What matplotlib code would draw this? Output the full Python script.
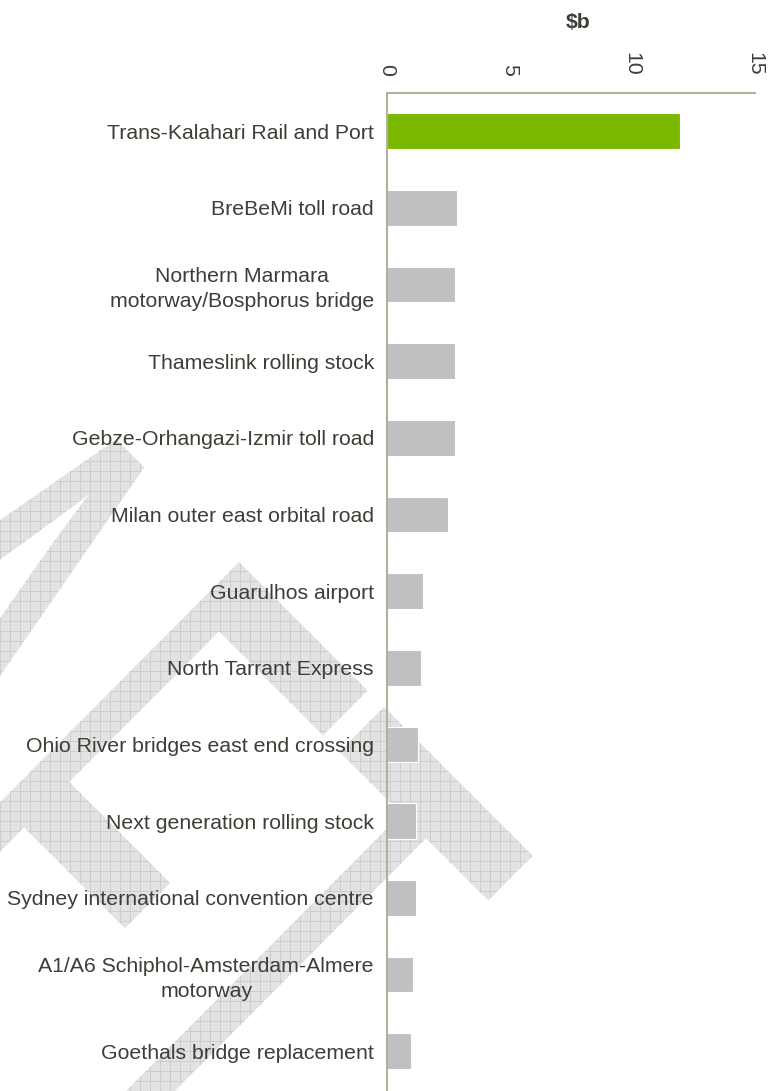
import matplotlib
matplotlib.use("Agg")
import matplotlib.pyplot as plt
import numpy as np
from matplotlib.textpath import TextPath
from matplotlib.font_manager import FontProperties
from matplotlib.transforms import Affine2D, IdentityTransform
from matplotlib.patches import PathPatch
from matplotlib.collections import LineCollection

# ---- data -------------------------------------------------------------
projects = [
    "Trans-Kalahari Rail and Port",
    "BreBeMi toll road",
    "Northern Marmara\nmotorway/Bosphorus bridge",
    "Thameslink rolling stock",
    "Gebze-Orhangazi-Izmir toll road",
    "Milan outer east orbital road",
    "Guarulhos airport",
    "North Tarrant Express",
    "Ohio River bridges east end crossing",
    "Next generation rolling stock",
    "Sydney international convention centre",
    "A1/A6 Schiphol-Amsterdam-Almere\nmotorway",
    "Goethals bridge replacement",
]
values_bn = [11.95, 2.87, 2.78, 2.78, 2.78, 2.48, 1.47, 1.38, 1.28, 1.18, 1.17, 1.07, 0.98]
highlight = [True] + [False] * 12
x_ticks = [0, 5, 10, 15]
unit_label = "$b"
stamp = "DRAFT"

# ---- styling ----------------------------------------------------------
W, H, DPI = 775, 1091, 100
GREEN = "#7AB800"
GREY = "#C0C0C0"
AXIS = "#A8B3A0"
TEXT = "#3B4036"

plt.rcParams["font.family"] = ["Liberation Sans", "DejaVu Sans"]

fig = plt.figure(figsize=(W / DPI, H / DPI), dpi=DPI, facecolor="white")

# ---- diagonal "DRAFT" stamp behind the chart ---------------------------
fp = FontProperties(family="Liberation Sans")
word = TextPath((0, 0), stamp, size=1, prop=fp)
head = TextPath((0, 0), stamp[:4], size=1, prop=fp).get_extents()
f_ext = TextPath((0, 0), stamp[3], size=1, prop=fp).get_extents()
x_f = head.x1 - f_ext.width
cap = f_ext.y1

u_scale, v_scale = 372.0, 830.0
a, c = u_scale * 0.707, -u_scale * 0.707          # along the baseline
b, d = v_scale * 0.705, v_scale * 0.709           # letter "up" direction
anchor_x, anchor_y = 239.0, H - 562.0
mtx = np.array([[a, b, anchor_x - a * x_f - b * cap],
                [c, d, anchor_y - c * x_f - d * cap],
                [0, 0, 1]])
stamp_path = Affine2D(mtx).transform_path(word)

stamp_patch = PathPatch(stamp_path, transform=IdentityTransform(),
                        facecolor="#E3E3E3", edgecolor="none", zorder=-2)
fig.add_artist(stamp_patch)

step = 10
segs = [[(0, yy), (W, yy)] for yy in np.arange(0, H + step, step)]
segs += [[(xx, 0), (xx, H)] for xx in np.arange(0, W + step, step)]
grid = LineCollection(segs, colors="#CACACA", linewidths=0.6,
                      transform=IdentityTransform(), zorder=-1.5)
fig.add_artist(grid)
grid.set_clip_path(stamp_patch)

# ---- bar chart --------------------------------------------------------
ax = fig.add_axes([387 / W, 1.5 / H, (755 - 387) / W, (998.3 - 1.5) / H])
ax.set_facecolor("none")

y = np.arange(len(projects))
colors = [GREEN if h else GREY for h in highlight]
ax.barh(y, values_bn, height=0.465, color=colors, edgecolor="white",
        linewidth=0.8, zorder=2)

ax.set_xlim(0, 15)
ax.set_ylim(len(projects) - 0.5, -0.5)

ax.xaxis.tick_top()
ax.set_xticks(x_ticks)
ax.set_xticklabels([str(t) for t in x_ticks])
ax.tick_params(axis="x", length=0, pad=12, labelsize=15.3,
               labelcolor=TEXT, labelrotation=-90)

ax.set_yticks(y)
ax.set_yticklabels(projects)
ax.tick_params(axis="y", length=0, pad=9.4, labelsize=15.3, labelcolor=TEXT)
for lbl in ax.get_yticklabels():
    lbl.set_multialignment("center")
    lbl.set_linespacing(1.4)

for side in ("right", "bottom"):
    ax.spines[side].set_visible(False)
for side in ("top", "left"):
    ax.spines[side].set_color(AXIS)
    ax.spines[side].set_linewidth(1.5)

fig.text(578, H - 28, unit_label, transform=IdentityTransform(),
         ha="center", va="baseline", fontsize=15.3, fontweight="bold",
         color=TEXT, parse_math=False)

fig.savefig("out.png", dpi=DPI, facecolor="white")
